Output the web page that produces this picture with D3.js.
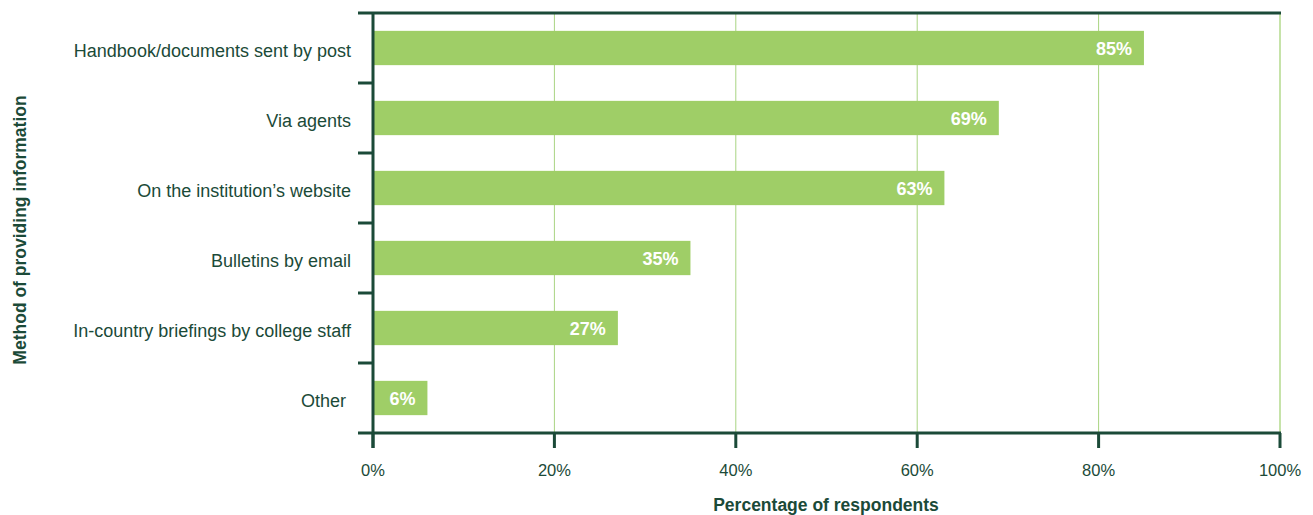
<!DOCTYPE html>
<html><head><meta charset="utf-8">
<script src="https://cdn.jsdelivr.net/npm/d3@7"></script>
<style>body{margin:0;background:#fff;font-family:"Liberation Sans",Arial,sans-serif;}</style>
</head><body><svg id="c" width="1313" height="515"></svg>
<script>
const categories = ["Handbook/documents sent by post","Via agents","On the institution\u2019s website","Bulletins by email","In-country briefings by college staff","Other"];
const values = [85,69,63,35,27,6];
const tickValues = [0,20,40,60,80,100];
const tickLabels = ["0%","20%","40%","60%","80%","100%"];

const dark = "#1b4a38", barC = "#9fce67", grid = "#a9d482";
const svg = d3.select("#c");
const L = 373, R = 1280, T = 13, B = 433;
const x = d3.scaleLinear().domain([0,100]).range([L,R]);
const y = d3.scaleBand().domain(categories).range([T,B]).paddingInner(0.51).paddingOuter(0.255);

// gridlines
svg.append("g").selectAll("line").data(tickValues.filter(v=>v>0)).join("line")
  .attr("x1",d=>x(d)).attr("x2",d=>x(d)).attr("y1",T).attr("y2",B)
  .attr("stroke",d=>d===100?"#c6e3a9":grid).attr("stroke-width",d=>d===100?2:1);

// bars
svg.append("g").selectAll("rect").data(values).join("rect")
  .attr("x",x(0)).attr("y",(d,i)=>y(categories[i])).attr("width",d=>x(d)-x(0)).attr("height",y.bandwidth()).attr("fill",barC);

// value labels
svg.append("g").selectAll("text").data(values).join("text")
  .attr("x",d=>x(d)-12).attr("y",(d,i)=>y(categories[i])+y.bandwidth()/2+7)
  .attr("text-anchor","end").attr("fill","#fff").attr("font-weight","bold").attr("font-size",18)
  .text(d=>d+"%");

// top line
svg.append("line").attr("x1",358).attr("x2",R+1).attr("y1",T).attr("y2",T).attr("stroke",dark).attr("stroke-width",3);
// bottom axis line
svg.append("line").attr("x1",358).attr("x2",R+1).attr("y1",B).attr("y2",B).attr("stroke",dark).attr("stroke-width",3);
// left axis line
svg.append("line").attr("x1",L).attr("x2",L).attr("y1",T).attr("y2",B+15).attr("stroke",dark).attr("stroke-width",3);

// category boundary ticks
const bounds = d3.range(1,categories.length).map(i=>T+ (B-T)*i/categories.length);
svg.append("g").selectAll("line").data(bounds).join("line")
  .attr("x1",358).attr("x2",L).attr("y1",d=>d).attr("y2",d=>d).attr("stroke",dark).attr("stroke-width",3);

// x ticks
svg.append("g").selectAll("line").data(tickValues).join("line")
  .attr("x1",d=>x(d)).attr("x2",d=>x(d)).attr("y1",B).attr("y2",B+15).attr("stroke",dark).attr("stroke-width",3);
svg.append("g").selectAll("text").data(tickValues).join("text")
  .attr("x",d=>x(d)).attr("y",476).attr("text-anchor","middle").attr("fill",dark).attr("font-size",16.5)
  .text((d,i)=>tickLabels[i]);

// category labels
svg.append("g").selectAll("text").data(categories).join("text")
  .attr("x",d=>d==="Other"?346:351).attr("y",d=>y(d)+y.bandwidth()/2+9)
  .attr("text-anchor","end").attr("fill",dark).attr("font-size",18).text(d=>d);

// axis titles
svg.append("text").attr("x",826).attr("y",511).attr("text-anchor","middle").attr("fill",dark)
  .attr("font-weight","bold").attr("font-size",17.5).text("Percentage of respondents");
svg.append("text").attr("transform","translate(26,230) rotate(-90)").attr("text-anchor","middle").attr("fill",dark)
  .attr("font-weight","bold").attr("font-size",17.5).text("Method of providing information");
</script></body></html>
